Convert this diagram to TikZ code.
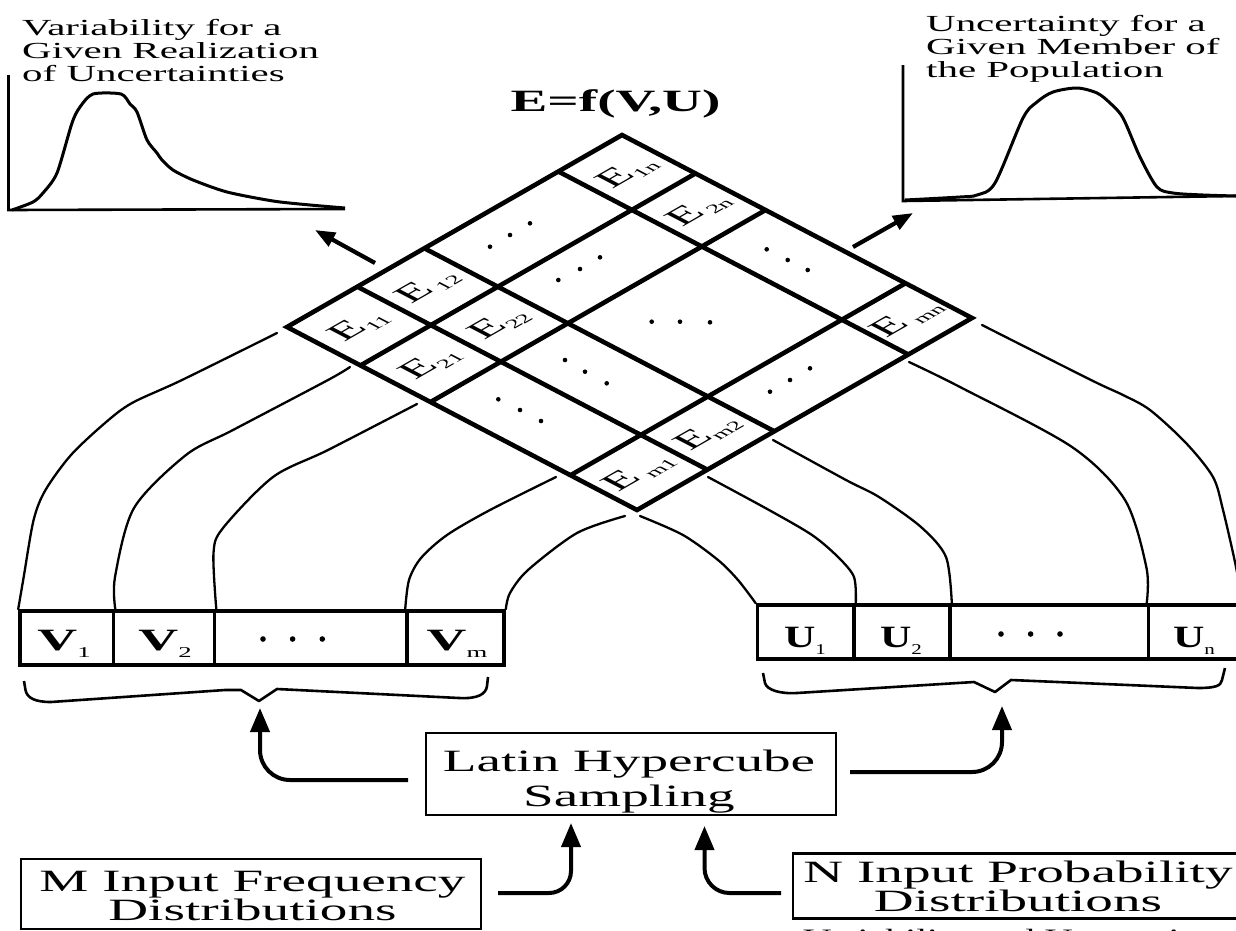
\documentclass[tikz,border=0pt]{standalone}
\usepackage{fontspec}
\setmainfont{Liberation Serif}[FakeStretch=1.78]
\newfontfamily\ufont{Liberation Serif}[FakeStretch=1.4]
\newfontfamily\efont{Liberation Serif}[FakeStretch=1.3]
\usetikzlibrary{calc,arrows.meta}
\newcommand\fs[1]{\fontsize{#1}{#1}\selectfont}
\newcommand\esub[1]{\raisebox{-6pt}{\fs{18}#1}}
\newcommand\vsub[1]{\raisebox{-7pt}{\fs{15}\mdseries #1}}
\newcommand\elab[4]{%
  \coordinate (#1c) at ($(L)+#2*(335,-192)+#3*(350,183)$);
  \begin{scope}[shift={(#1c)}]\node[elabel] (#1) at (0,0) {#4};\end{scope}}
\begin{document}
\begin{tikzpicture}[x=1pt,y=-1pt,
  grid/.style={line width=4.6pt,line join=miter},
  link/.style={line width=2.3pt,line join=round,line cap=round},
  brace/.style={line width=2.6pt,line join=round},
  axis/.style={line width=2.6pt},
  dist/.style={line width=3pt,line join=round},
  cellbox/.style={draw,line width=3.6pt,inner sep=0pt,minimum height=54pt},
  frame/.style={draw,line width=2.6pt,inner sep=0pt},
  bigarrow/.style={line width=4pt,rounded corners=30pt,-{Triangle[length=24pt,width=19pt]}},
  smallarrow/.style={line width=4.2pt,-{Triangle[length=20pt,width=15pt]}},
  title/.style={align=left,inner sep=0pt,font=\fontsize{23}{23.3}\selectfont},
  elabel/.style={inner sep=0pt,transform shape,cm={0.868,0.497,-0.886,0.463,(0,0)},font=\efont\fs{35}},
]
\useasboundingbox (0,0) rectangle (1236,930);
\clip (0,0) rectangle (1236,930);

% ---------- titles ----------
\node[title,anchor=north west] (ttl) at (22,19) {Variability for a\\Given Realization\\of Uncertainties};
\node[title,anchor=north west] (ttr) at (926,15) {Uncertainty for a\\Given Member of\\the Population};
\node[anchor=base,inner sep=0pt,font=\fs{31}\bfseries] (ef) at (615.5,111.7) {E=f(V,U)};

% ---------- distribution plots ----------
\draw[axis] (8.5,75) -- (8.5,210) -- (345,209);
\draw[dist] plot[smooth,tension=0.45] coordinates {(12,210) (33,202) (43,193) (57,173) (72,123) (80,107) (93,94) (121,94) (130,104) (137,112) (147,140) (157,153) (162,160) (173,170) (193,180) (227,192) (273,201) (310,205) (345,208)};
\draw[axis] (903,65) -- (903,201) -- (1236,196);
\draw[dist] plot[smooth,tension=0.5] coordinates {(905,200) (960,197) (977,195) (995,183) (1023,118) (1037,102) (1053,92) (1077,88) (1097,93) (1110,103) (1123,118) (1140,157) (1157,187) (1173,193) (1203,195) (1236,196)};
\coordinate (al0) at (375,263); \coordinate (al1) at (315,230);
\coordinate (ar0) at (853,247); \coordinate (ar1) at (913,213);
\draw[smallarrow] (al0) -- (al1);
\draw[smallarrow] (ar0) -- (ar1);

% ---------- grid ----------
\coordinate (L) at (287,327); \coordinate (T) at (622,135);
\coordinate (B) at (637,510); \coordinate (R) at (972,318);
\draw[grid] (L) -- (T) -- (R) -- (B) -- cycle;
\foreach \f in {0.21,0.41,0.81} {
  \draw[grid] ($(L)!\f!(T)$) -- ($(B)!\f!(R)$);
  \draw[grid] ($(L)!\f!(B)$) -- ($(T)!\f!(R)$);
}
\elab{e11}{0.105}{0.105}{E\esub{11}}
\elab{e12}{0.31}{0.105}{E\hspace{4pt}\esub{12}}
\elab{e1n}{0.905}{0.105}{E\esub{1n}}
\elab{e21}{0.105}{0.31}{E\esub{21}}
\elab{e22}{0.31}{0.31}{E\esub{22}}
\elab{e2n}{0.905}{0.31}{E\hspace{3pt}\esub{2n}}
\elab{em1}{0.105}{0.905}{E\hspace{6pt}\esub{m1}}
\elab{em2}{0.31}{0.905}{E\esub{m2}}
\elab{emn}{0.905}{0.905}{E\hspace{6pt}\esub{mn}}
\foreach \x/\y in {490/246.7,510/235,530/223.3, 558.3/280,580/269,600/257.3,
  498.3/399.3,520/410,541/421, 565/360,585/371.7,606.7/383.3,
  651.7/321.7,680/321.7,710/322.3, 766.7/249.3,787.7/260,807.7/270,
  770/391.7,790/380,810/368.3}
  \fill (\x,\y) circle[radius=2.3];

% ---------- V and U boxes ----------
\node[cellbox,minimum width=93.5pt] (v1) at (66.75,638) {};
\node[cellbox,minimum width=101pt] (v2) at (164,638) {};
\node[cellbox,minimum width=192.5pt] (vd) at (310.75,638) {};
\node[cellbox,minimum width=97pt] (vm) at (455.5,638) {};
\node[anchor=base,inner sep=0pt,font=\fs{31}] (v1l) at (64,650) {\textbf{V}\vsub{1}};
\node[anchor=base,inner sep=0pt,font=\fs{31}] (v2l) at (165,650) {\textbf{V}\vsub{2}};
\node[anchor=base,inner sep=0pt,font=\fs{31}] (vml) at (457,650) {\textbf{V}\vsub{m}};
\foreach \x in {263,292.6,322.3} \fill (\x,639) circle[radius=2.8];

\node[cellbox,minimum width=96.5pt] (u1) at (805.75,632) {};
\node[cellbox,minimum width=96pt] (u2) at (902,632) {};
\node[cellbox,minimum width=198.5pt] (ud) at (1049.25,632) {};
\node[cellbox,minimum width=91.5pt] (un) at (1194.25,632) {};
\node[anchor=base,inner sep=0pt,font=\ufont\fs{31}\bfseries] (u1l) at (805,647) {U\vsub{1}};
\node[anchor=base,inner sep=0pt,font=\ufont\fs{31}\bfseries] (u2l) at (901,647) {U\vsub{2}};
\node[anchor=base,inner sep=0pt,font=\ufont\fs{31}\bfseries] (unl) at (1194,647) {U\vsub{n}};
\foreach \x in {1001,1030.6,1060} \fill (\x,634) circle[radius=2.8];

% ---------- connectors grid -> boxes ----------
\coordinate (g1) at (277,333); \coordinate (g2) at (350,367); \coordinate (g3) at (417,404);
\coordinate (g4) at (556,477); \coordinate (g5) at (625,516);
\coordinate (h1) at (640,516); \coordinate (h2) at (708,477); \coordinate (h3) at (773,440);
\coordinate (h4) at (909,362); \coordinate (h5) at (982,325);
\draw[link] plot[smooth,tension=0.5] coordinates {(g1) (182,380) (132,403) (105,423) (71,455) (45.5,490) (33.6,520) (23.7,577) (v1.north west)};
\draw[link] plot[smooth,tension=0.5] coordinates {(g2) (328,380) (233,430) (186,455) (134,508) (115,577) (v1.north east)};
\draw[link] plot[smooth,tension=0.5] coordinates {(g3) (328,450) (273,477) (223,528) (213.5,553) (v2.north east)};
\draw[link] plot[smooth,tension=0.5] coordinates {(g4) (490,510) (447,535) (421,558) (409,580) (vm.north west)};
\draw[link] plot[smooth,tension=0.5] coordinates {(g5) (577,533) (528,570) (510,593) (vm.north east)};
\draw[link] plot[smooth,tension=0.5] coordinates {(h1) (683,535) (718,560) (738,580) (u1.north west)};
\draw[link] plot[smooth,tension=0.5] coordinates {(h2) (769,510) (812,535) (838,557) (854,577) (u1.north east)};
\draw[link] plot[smooth,tension=0.5] coordinates {(h3) (846,480) (879,497) (921,527) (946,557) (u2.north east)};
\draw[link] plot[smooth,tension=0.5] coordinates {(h4) (960,387) (1072,447) (1125,500) (1146.5,568) (un.north west)};
\draw[link] plot[smooth,tension=0.5] coordinates {(h5) (1091,380) (1123,395) (1150,410) (1186,443) (1213,477) (1223,510) (1236,567) (un.north east)};

% ---------- braces ----------
\coordinate (vbr) at (259,701);
\coordinate (ubr) at (995,692);
\draw[brace] (24,681) -- (25.5,690) .. controls (27,698) and (35,702) .. (51,702) -- (225,690) -- (241,690) -- (vbr) -- (277,689) -- (459,698) .. controls (478,699) and (486,694) .. (487,686) -- (488,677);
\draw[brace] (763,673) -- (765,683) .. controls (767,690) and (780,694) .. (797,693) -- (974,682) -- (ubr) -- (1011,680) -- (1198,688) .. controls (1215,688) and (1221,686) .. (1222,680) -- (1225,668);

% ---------- sampling boxes ----------
\node[frame,minimum width=410pt,minimum height=82pt] (lhs) at (631,774) {};
\node[align=center,inner sep=0pt,font=\fontsize{31}{35}\selectfont] (lhst) at (629,782) {Latin Hypercube\\Sampling};
\node[frame,minimum width=460pt,minimum height=70pt] (mbox) at (250.8,894) {};
\node[align=center,inner sep=0pt,font=\fontsize{31}{26}\selectfont] (mtext) at (252.5,896) {M Input Frequency\\Distributions};
\node[frame,minimum width=450pt,minimum height=65pt] (nbox) at (1018,885.7) {};
\node[align=center,inner sep=0pt,font=\fontsize{31}{23}\selectfont] (ntext) at (1018,886) {N Input Probability\\Distributions};
\node[anchor=base west,inner sep=0pt,font=\fs{22}] (capt) at (803,944) {Variability and Uncertainty};

% ---------- sampling arrows ----------
\coordinate (la0) at (408,780); \coordinate (la1) at (260,708);
\coordinate (ra0) at (850,772); \coordinate (ra1) at (1002,706);
\coordinate (ma0) at (498,893); \coordinate (ma1) at (571,823);
\coordinate (na0) at (781,893); \coordinate (na1) at (704.5,826);
\draw[bigarrow] (la0) -| (la1);
\draw[bigarrow] (ra0) -| (ra1);
\draw[bigarrow,rounded corners=22pt] (ma0) -| (ma1);
\draw[bigarrow,rounded corners=25pt] (na0) -| (na1);
\end{tikzpicture}
\end{document}
